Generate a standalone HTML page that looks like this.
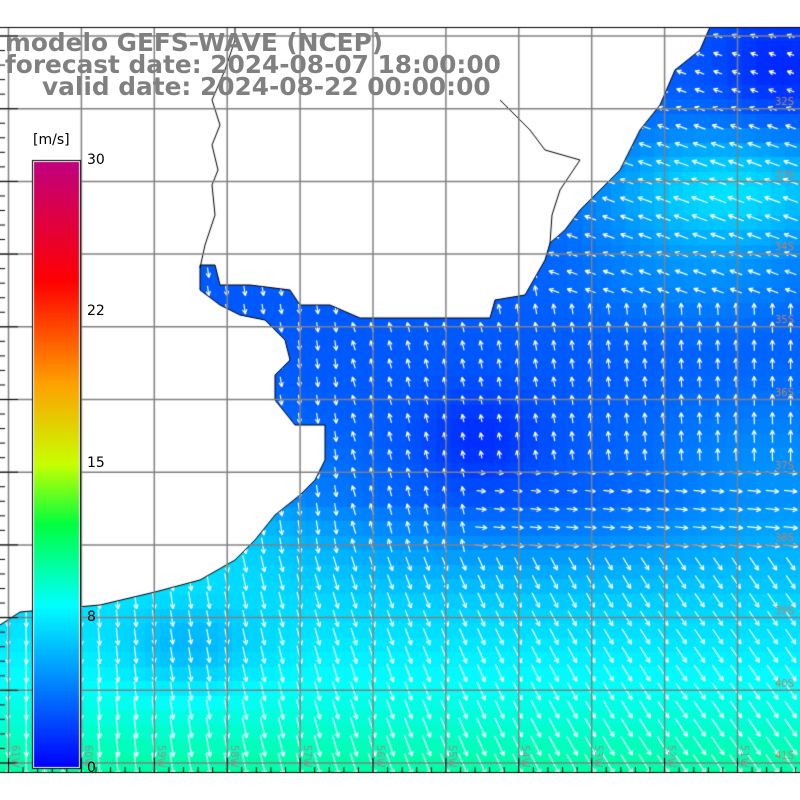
<!DOCTYPE html>
<html><head><meta charset="utf-8"><style>
html,body{margin:0;padding:0;background:#fff;}
#w{position:relative;width:800px;height:800px;overflow:hidden;}
canvas{position:absolute;left:0;top:0;}
.t{position:absolute;font-family:"DejaVu Sans","Liberation Sans",sans-serif;font-weight:bold;color:#808080;font-size:24.8px;white-space:nowrap;line-height:1;}
.cl{position:absolute;font-family:"DejaVu Sans","Liberation Sans",sans-serif;font-size:14px;color:#000;line-height:1;}
</style></head><body><div id="w">
<canvas id="c" width="800" height="800"></canvas>
<div class="t" style="left:5px;top:31px">modelo GEFS-WAVE (NCEP)</div>
<div class="t" style="left:5px;top:53px">forecast date: 2024-08-07 18:00:00</div>
<div class="t" style="left:42px;top:75px">valid date: 2024-08-22 00:00:00</div>
<div class="cl" style="left:33px;top:133px">[m/s]</div>
<div class="cl" style="left:87px;top:153px">30</div>
<div class="cl" style="left:87px;top:304px">22</div>
<div class="cl" style="left:87px;top:456px">15</div>
<div class="cl" style="left:87px;top:610px">8</div>
<div class="cl" style="left:87px;top:761px">0</div>
</div>
<script>
const c=document.getElementById('c'),g=c.getContext('2d');
const poly=[[720,27],[800,27],[800,772],[0,772],[0,625],[20,612],[100,605],[155,592],[200,580],[235,560],[255,540],[275,515],[300,495],[315,480],[325,460],[325,425],[295,425],[275,400],[275,375],[290,360],[285,340],[265,320],[240,315],[220,305],[200,290],[200,265],[215,265],[220,285],[250,285],[290,290],[300,305],[330,305],[360,318],[490,318],[495,300],[525,295],[545,260],[550,243],[565,230],[580,210],[600,190],[620,170],[640,130],[660,105],[675,70],[700,50],[710,27]];
function blob(x,y,cx,cy,a,rx,ry){const dx=(x-cx)/rx,dy=(y-cy)/ry;return a*Math.exp(-(dx*dx+dy*dy));}
function sp(x,y){let s=2.8;s+=Math.min(1,Math.max(0,(y-500)/100))*3.5+Math.max(0,y-600)/170*3.6;
s+=blob(x,y,170,520,2.8,170,80);s+=blob(x,y,190,650,-1.8,70,45);
s+=blob(x,y,730,190,4.2,130,60);s+=blob(x,y,700,280,1.3,120,50);s+=blob(x,y,780,70,-1.6,60,60);
s+=blob(x,y,480,440,-1.4,60,50);s+=blob(x,y,780,480,1.8,130,90);
return Math.max(0.5,s);}
function col(v){const st=[[0,0,0,255],[8,0,255,255],[12,0,255,64],[15,200,255,0],[19,255,160,0],[24,255,0,0],[30,192,0,128]];
for(let i=0;i<st.length-1;i++){const a=st[i],b=st[i+1];if(v<=b[0]){const t=(v-a[0])/(b[0]-a[0]);return `rgb(${Math.round(a[1]+t*(b[1]-a[1]))},${Math.round(a[2]+t*(b[2]-a[2]))},${Math.round(a[3]+t*(b[3]-a[3]))})`;}}return 'rgb(192,0,128)';}
g.fillStyle='#fff';g.fillRect(0,0,800,800);
g.save();g.beginPath();poly.forEach((p,i)=>i?g.lineTo(p[0],p[1]):g.moveTo(p[0],p[1]));g.closePath();g.clip();
const cs=14.55;
for(let x=0;x<800;x+=cs)for(let y=27;y<772;y+=cs){g.fillStyle=col(sp(x+cs/2,y+cs/2));g.fillRect(Math.floor(x),Math.floor(y),Math.ceil(cs)+1,Math.ceil(cs)+1);}
g.strokeStyle='#fff';g.lineWidth=1.2;
function dir(x,y){let a;
if(y>560) a=Math.PI/2-Math.min(0.6,(x/800)*0.7);
else if(x>480&&y>470) a=0.1;
else if(y<300&&x>550) a=-Math.PI+0.35;
else if(x<340) a=Math.PI/2-0.15;
else a=-Math.PI/2-0.3*(1-(x-340)/460);
return a;}
for(let x=8;x<800;x+=18.2)for(let y=36;y<772;y+=18.2){
const s=sp(x,y);const L=5+s*1.8;const a=dir(x,y);
const ex=x+Math.cos(a)*L/2,ey=y+Math.sin(a)*L/2,bx=x-Math.cos(a)*L/2,by=y-Math.sin(a)*L/2;
g.beginPath();g.moveTo(bx,by);g.lineTo(ex,ey);
g.moveTo(ex,ey);g.lineTo(ex-Math.cos(a-0.45)*5,ey-Math.sin(a-0.45)*5);
g.moveTo(ex,ey);g.lineTo(ex-Math.cos(a+0.45)*5,ey-Math.sin(a+0.45)*5);g.stroke();}
g.restore();
g.strokeStyle='#000';g.lineWidth=1;g.beginPath();
for(let i=4;i<poly.length;i++){const p=poly[i];i==4?g.moveTo(p[0],p[1]):g.lineTo(p[0],p[1]);}g.stroke();
g.beginPath();[[200,268],[205,245],[215,215],[212,185],[218,170],[212,145],[220,125],[212,100],[225,70],[235,40],[235,27]].forEach((p,i)=>i?g.lineTo(p[0],p[1]):g.moveTo(p[0],p[1]));g.stroke();
g.beginPath();[[500,100],[530,130],[545,150],[580,160],[560,190],[552,215],[550,243]].forEach((p,i)=>i?g.lineTo(p[0],p[1]):g.moveTo(p[0],p[1]));g.stroke();
g.strokeStyle='#808080';g.lineWidth=1.5;
for(let i=0;i<11;i++){const x=8.5+i*72.9;g.beginPath();g.moveTo(x,27);g.lineTo(x,772);g.stroke();
const y=36+i*72.7;g.beginPath();g.moveTo(0,y);g.lineTo(800,y);g.stroke();}
g.strokeStyle='#000';g.lineWidth=1;g.beginPath();g.moveTo(0,27.5);g.lineTo(800,27.5);g.stroke();
for(let y=36;y<772;y+=14.54){g.beginPath();g.moveTo(0,y);g.lineTo((Math.round((y-36)/14.54)%5==0)?18:5,y);g.stroke();}
for(let x=8.5;x<800;x+=14.58){g.beginPath();g.moveTo(x,772);g.lineTo(x,(Math.round((x-8.5)/14.58)%5==0)?758:767);g.stroke();}
g.beginPath();g.moveTo(0,772.5);g.lineTo(800,772.5);g.stroke();
g.fillStyle='#c08060';g.font='10px "DejaVu Sans",sans-serif';
['32S','33S','34S','35S','36S','37S','38S','39S','40S','41S'].forEach((t,i)=>g.fillText(t,775,105+i*72.7));
g.fillStyle='#909090';
for(let i=0;i<11;i++){g.save();g.translate(12+i*72.9,745);g.rotate(Math.PI/2);g.fillText((61-i)+'W',0,0);g.restore();}
const gr=g.createLinearGradient(0,768,0,160);
[[0,'#0000ff'],[8,'#00ffff'],[12,'#00ff40'],[15,'#c8ff00'],[19,'#ffa000'],[24,'#ff0000'],[30,'#c00080']].forEach(s=>gr.addColorStop(s[0]/30,s[1]));
g.fillStyle='#000';g.fillRect(32,160,49,609);g.fillStyle='#fff';g.fillRect(33,161,47,607);
g.fillStyle=gr;g.fillRect(34,162,45,605);
</script></body></html>
